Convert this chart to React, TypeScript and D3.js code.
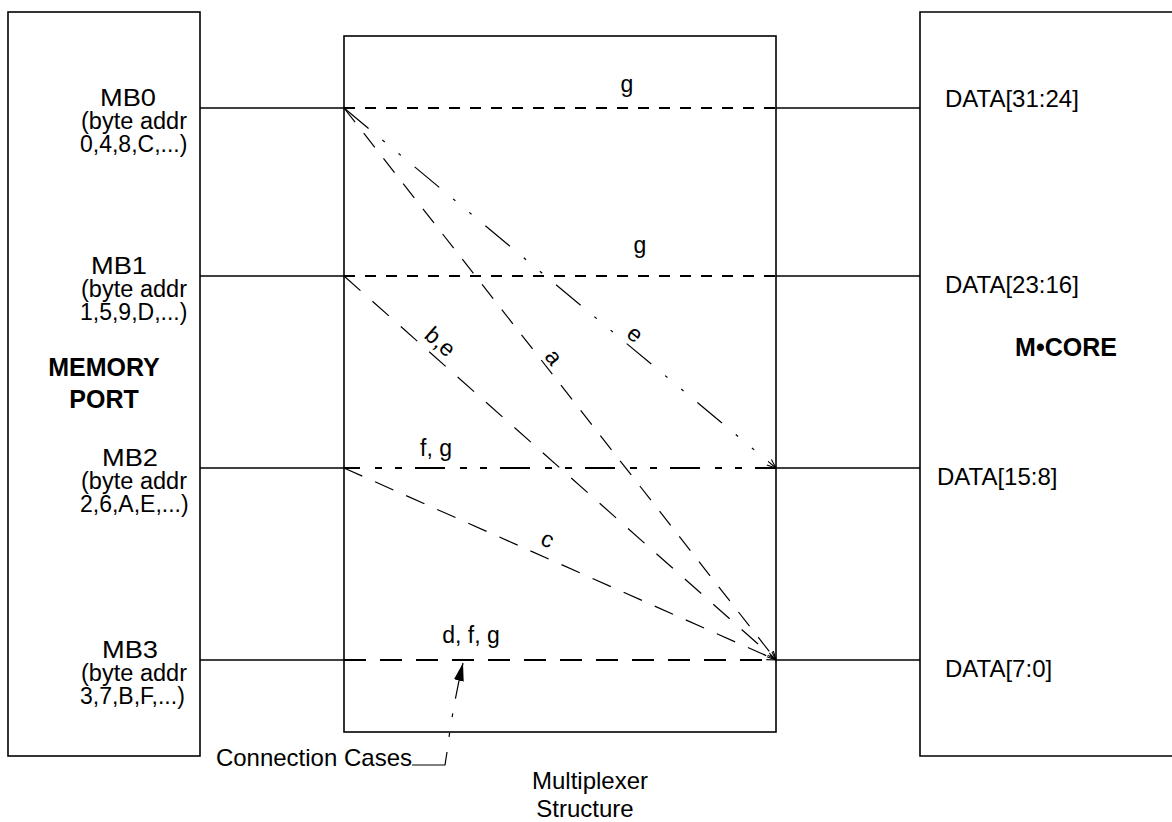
import React from "react";
import * as d3 from "d3";

// byte lanes of the memory port and of the core
const memoryBanks = ["MB0", "MB1", "MB2", "MB3"];
const bankAddresses = ["0,4,8,C,...)", "1,5,9,D,...)", "2,6,A,E,...)", "3,7,B,F,...)"];
const dataLanes = ["DATA[31:24]", "DATA[23:16]", "DATA[15:8]", "DATA[7:0]"];
// straight-through connection cases per lane
const straightCases = ["g", "g", "f, g", "d, f, g"];
// crossing connections: from bank -> to data lane
const crossFrom = [0, 1, 2, 0];
const crossTo = [3, 3, 3, 2];
const crossCases = ["a", "b,e", "c", "e"];

const W = 1172;
const H = 822;
const font = "'Liberation Sans', Arial, Helvetica, sans-serif";

const rowY = d3.scaleLinear().domain([0, 1, 2, 3]).range([108, 276, 468, 660]);
const col = { memL: 8, memR: 200, muxL: 344, muxR: 776, coreL: 920 };
const muxTop = 36, muxBottom = 732, outerTop = 12, outerBottom = 756;

// styles
const rowDash = ["11,10", "11,10", "30,15,7,13,7,13", "22,14"];
const rowDashOffset = [0, 0, 14, 0];
const crossDash = ["18,14", "22,16", "20,14", "32,18,3,18,3,18"];
const crossLabelT = [0.464, 0.2, 0.455, 0.655];
const crossLabelPerp = [12, 15, 18, 13];
const bankLabelX = [128, 119, 130, 130];
const laneLabelX = [945, 945, 937, 945];
const laneLabelDy = [-1, 17, 17, 17];
const caseLabelX = [627, 640, 436, 471];
const caseLabelDy = [-16, -23, -12, -17];

export default function App() {
  const line = d3.line<[number, number]>();
  return (
    <svg width={W} height={H} style={{ position: "absolute", left: 0, top: 0, background: "#fff" }}
      fontFamily={font}>
      <defs>
        <marker id="open" viewBox="0 0 10 10" refX={10} refY={5} markerWidth={9} markerHeight={9}
          markerUnits="userSpaceOnUse" orient="auto">
          <path d="M0,1 L10,5 L0,9" fill="none" stroke="#000" strokeWidth={1.2} strokeDasharray="none" />
        </marker>
        <marker id="solid" viewBox="0 0 18 10" refX={18} refY={5} markerWidth={18} markerHeight={10}
          markerUnits="userSpaceOnUse" orient="auto">
          <path d="M0,0 L18,5 L0,10 z" fill="#000" />
        </marker>
      </defs>

      {/* boxes */}
      <rect x={col.memL} y={outerTop} width={col.memR - col.memL} height={outerBottom - outerTop}
        fill="none" stroke="#000" strokeWidth={1.6} />
      <rect x={col.muxL} y={muxTop} width={col.muxR - col.muxL} height={muxBottom - muxTop}
        fill="none" stroke="#000" strokeWidth={1.6} />
      <path d={`M${W + 10},${outerTop} H${col.coreL} V${outerBottom} H${W + 10}`}
        fill="none" stroke="#000" strokeWidth={1.6} />

      {/* lanes */}
      {memoryBanks.map((mb, i) => {
        const y = rowY(i);
        return (
          <g key={mb}>
            <path d={line([[col.memR, y], [col.muxL, y]])!} stroke="#000" strokeWidth={1.6} />
            <path d={line([[col.muxR, y], [col.coreL, y]])!} stroke="#000" strokeWidth={1.6} />
            <path d={line([[col.muxL, y], [col.muxR, y]])!} stroke="#000" strokeWidth={1.8}
              strokeDasharray={rowDash[i]} strokeDashoffset={rowDashOffset[i]} fill="none" />
            <text x={bankLabelX[i]} y={y - 2} fontSize={24} textAnchor="middle"
              textLength={56} lengthAdjust="spacingAndGlyphs">{mb}</text>
            <text x={81} y={y + 21} fontSize={23} textLength={106}
              lengthAdjust="spacingAndGlyphs">(byte addr</text>
            <text x={80} y={y + 44} fontSize={23}>{bankAddresses[i]}</text>
            <text x={laneLabelX[i]} y={y + laneLabelDy[i]} fontSize={24}>{dataLanes[i]}</text>
            <text x={caseLabelX[i]} y={y + caseLabelDy[i]} fontSize={23} textAnchor="middle">{straightCases[i]}</text>
          </g>
        );
      })}

      {/* crossing connections */}
      {crossCases.map((lab, i) => {
        const x0 = col.muxL, y0 = rowY(crossFrom[i]);
        const x1 = col.muxR, y1 = rowY(crossTo[i]);
        const dx = x1 - x0, dy = y1 - y0;
        const len = Math.hypot(dx, dy);
        const ux = dx / len, uy = dy / len;
        const t = crossLabelT[i] * len;
        const px = x0 + ux * t + uy * crossLabelPerp[i];
        const py = y0 + uy * t - ux * crossLabelPerp[i];
        const ang = (Math.atan2(dy, dx) * 180) / Math.PI;
        return (
          <g key={lab}>
            <path d={line([[x0, y0], [x1, y1]])!} stroke="#000" strokeWidth={1.2} fill="none"
              strokeDasharray={crossDash[i]} markerEnd="url(#open)" />
            <text transform={`translate(${px},${py}) rotate(${ang})`} fontSize={23}
              textAnchor="middle" dominantBaseline="central">{lab}</text>
          </g>
        );
      })}

      {/* side labels */}
      <text x={104} y={376} fontSize={25} fontWeight="bold" textAnchor="middle">MEMORY</text>
      <text x={104} y={408} fontSize={25} fontWeight="bold" textAnchor="middle">PORT</text>
      <text x={1066} y={356} fontSize={25} fontWeight="bold" textAnchor="middle">M•CORE</text>

      {/* connection cases leader */}
      <text x={412} y={766} fontSize={24} textAnchor="end">Connection Cases</text>
      <path d="M412,765 H445 L447,752" fill="none" stroke="#000" strokeWidth={1.2} />
      <path d="M447,752 Q453,705 463,663" fill="none" stroke="#000" strokeWidth={1.2}
        strokeDasharray="0,15,4,16,4,15,60" markerEnd="url(#solid)" />

      <text x={590} y={789} fontSize={24} textAnchor="middle">Multiplexer</text>
      <text x={585} y={817} fontSize={24} textAnchor="middle">Structure</text>
    </svg>
  );
}
